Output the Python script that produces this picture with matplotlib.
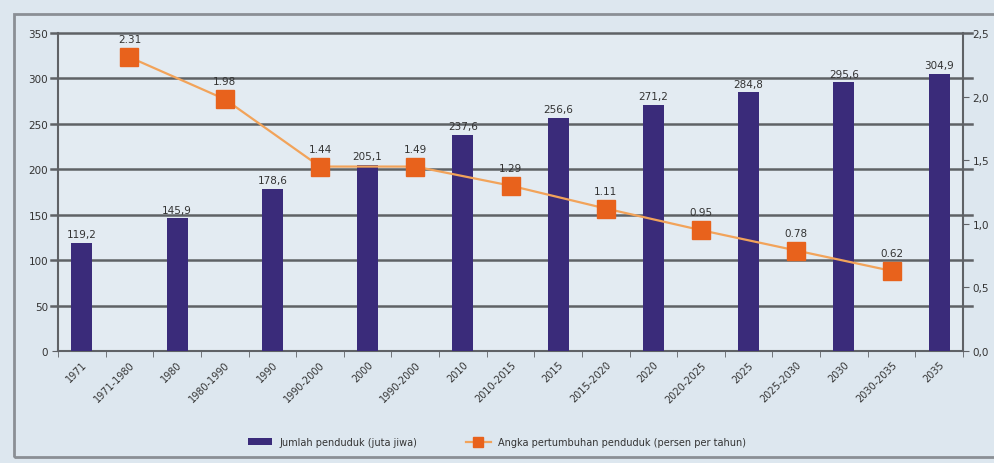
import matplotlib
matplotlib.use("Agg")
import matplotlib.pyplot as plt
import numpy as np
from matplotlib.patches import Rectangle

categories = ["1971", "1971-1980", "1980", "1980-1990", "1990", "1990-2000", "2000",
              "1990-2000", "2010", "2010-2015", "2015", "2015-2020", "2020", "2020-2025",
              "2025", "2025-2030", "2030", "2030-2035", "2035"]
bar_idx = [0, 2, 4, 6, 8, 10, 12, 14, 16, 18]
population = [119.2, 145.9, 178.6, 205.1, 237.6, 256.6, 271.2, 284.8, 295.6, 304.9]
line_idx = [1, 3, 5, 7, 9, 11, 13, 15, 17]
growth = [2.31, 1.98, 1.45, 1.45, 1.30, 1.12, 0.95, 0.79, 0.63]
growth_labels = ["2.31", "1.98", "1.44", "1.49", "1.29", "1.11", "0.95", "0.78", "0.62"]
left_ticks = [0, 50, 100, 150, 200, 250, 300, 350]
right_ticks = ["0,0", "0,5", "1,0", "1,5", "2,0", "2,5"]

BG = "#dde7ef"
BAR = "#3a2b7a"
LINE = "#f2a35a"
MARK = "#e8621c"
GRID = "#5f6266"

fig = plt.figure(figsize=(9.94, 4.64), dpi=100, facecolor=BG)
fig.patches.append(Rectangle((14/994, 1-458/464), 1.0, (458-15)/464, transform=fig.transFigure,
                             fill=False, edgecolor="#8a8f95", linewidth=2))
ax = fig.add_axes([58/994, 1-352/464, (963-58)/994, (352-34)/464])
ax.set_facecolor("#e3ebf2")
ax.set_xlim(-0.5, len(categories) - 0.5)
ax.set_ylim(0, 350)
ax.set_yticks(left_ticks)
ax.set_yticklabels([str(t) for t in left_ticks], fontsize=7.5, color="#333333")
for t in left_ticks[1:]:
    ax.axhline(t, color=GRID, linewidth=1.8, zorder=1, clip_on=False,
               xmin=-0.008, xmax=1.01)
ax.tick_params(axis="y", length=4, color=GRID, pad=3)

bars = ax.bar(bar_idx, population, width=0.44, color=BAR, zorder=3,
              label="Jumlah penduduk (juta jiwa)")
for x, v in zip(bar_idx, population):
    ax.text(x, v + 4, f"{v:.1f}".replace(".", ","), ha="center", va="bottom",
            fontsize=7.5, color="#333333", zorder=5)

ax.set_xticks(range(len(categories)))
ax.set_xticklabels(categories, rotation=45, ha="right", rotation_mode="anchor",
                   fontsize=7, color="#333333")
ax.tick_params(axis="x", length=0, pad=6)
ax.set_xticks(np.arange(-0.5, len(categories), 1.0), minor=True)
ax.tick_params(axis="x", which="minor", length=4, color=GRID)
for s in ["left", "bottom", "right"]:
    ax.spines[s].set_color(GRID)
    ax.spines[s].set_linewidth(1.5)
ax.spines["top"].set_visible(False)

ax2 = ax.twinx()
ax2.set_ylim(0, 2.5)
ax2.set_yticks(np.arange(0, 2.51, 0.5))
ax2.set_yticklabels(right_ticks, fontsize=7.5, color="#333333")
ax2.tick_params(axis="y", length=4, color=GRID, pad=3)
for s in ax2.spines.values():
    s.set_visible(False)
ln, = ax2.plot(line_idx, growth, color=LINE, linewidth=1.6, marker="s", markersize=12.5,
               markerfacecolor=MARK, markeredgecolor=MARK, zorder=4,
               label="Angka pertumbuhan penduduk (persen per tahun)")
for x, v, lab in zip(line_idx, growth, growth_labels):
    ax2.text(x, v + 0.1, lab, ha="center", va="bottom", fontsize=7.5, color="#333333")

fig.legend([bars, ln], [bars.get_label(), ln.get_label()], loc="center",
           bbox_to_anchor=(0.5, 1 - 443/464), ncol=2, frameon=False, fontsize=7,
           columnspacing=5, handlelength=2.5, markerscale=0.6, labelcolor="#333333")

fig.savefig("out.png", dpi=100, facecolor=BG)
